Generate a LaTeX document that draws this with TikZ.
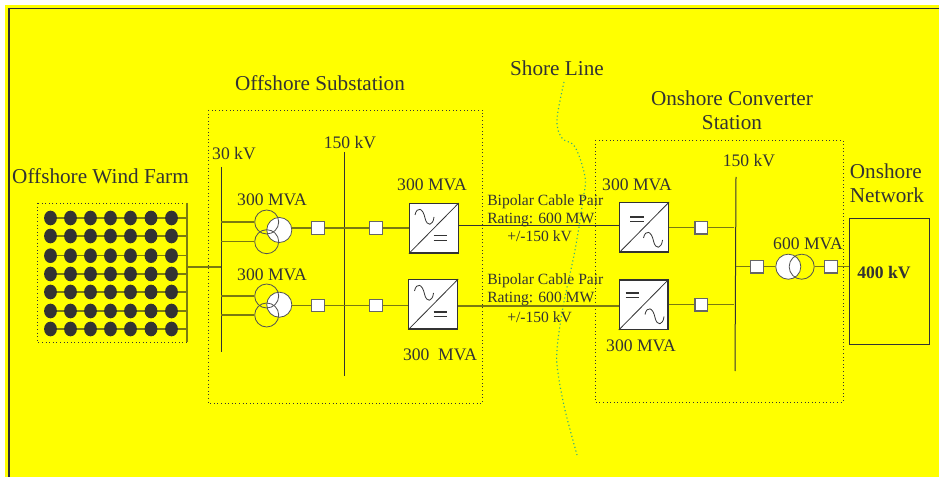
\documentclass[tikz,border=0pt]{standalone}
\usepackage{fontspec}
\setmainfont{Liberation Serif}
\usetikzlibrary{shapes.geometric,calc}
\definecolor{ink}{RGB}{51,51,51}
\definecolor{busolive}{RGB}{122,122,16}
\definecolor{shore}{RGB}{50,170,130}
\definecolor{pageyellow}{RGB}{255,255,0}
\tikzset{
  lbl/.style={text=ink,inner sep=0pt,font=\fontsize{15.9}{18}\selectfont,align=center},
  lblmid/.style={lbl,font=\fontsize{13.2}{15}\selectfont},
  lblsmall/.style={lbl,font=\fontsize{11.7}{13.5}\selectfont,align=left,anchor=west},
  busbar/.style={draw=ink,line width=0.75pt},
  wire/.style={draw=busolive,line width=0.9pt},
  thin wire/.style={draw=ink,line width=0.6pt},
  sq/.style={draw=gray!80!black,fill=white,line width=0.8pt,minimum size=9.5pt,inner sep=0pt},
  conv/.style={draw=ink,fill=white,line width=0.9pt,minimum width=36.5pt,minimum height=37pt,inner sep=0pt},
  turbine/.style={ellipse,fill=ink,minimum width=9.6pt,minimum height=11pt,inner sep=0pt},
  fence/.style={draw=ink,dotted,line width=0.7pt},
  coil/.style={draw=ink!85,line width=0.6pt},
}
\newcommand{\convsym}[1]{%
  \draw[ink,line width=0.6pt] (#1.south west) -- (#1.north east);}
\newcommand{\sinewave}[2]{%
  \draw[ink,line width=0.6pt] (#1,#2) .. controls ($(#1,#2)+(2,-9)$) and ($(#1,#2)+(8,-7)$) .. ($(#1,#2)+(10,3)$)
     .. controls ($(#1,#2)+(12,12)$) and ($(#1,#2)+(18,11)$) .. ($(#1,#2)+(19,2)$);}
\newcommand{\eqsign}[2]{%
  \draw[ink,line width=0.8pt] (#1,#2) -- ++(13.5,0) (#1,#2+4.5) -- ++(13.5,0);}
\begin{document}
\begin{tikzpicture}[x=0.75pt,y=-0.75pt]
\useasboundingbox (0,0) rectangle (939,477);
\fill[white] (0,0) rectangle (939,477);
\fill[pageyellow] (5,5) rectangle (939,477);
\draw[ink,line width=0.9pt] (9,477) -- (9,8.5) -- (939,8.5);

% shore line
\draw[shore,dotted,line width=0.85pt] plot[smooth,tension=0.6] coordinates {(564,82) (557,120) (562,138) (575,147) (585,177) (583,200) (575,250) (563,307) (557,350) (558,373) (565,410) (577,455)};

% dotted enclosures
\draw[fence] (37,203) rectangle (187,342);
\draw[fence] (208,110) rectangle (482.5,403);
\draw[fence] (595,140) rectangle (843,402);

% wind farm
\coordinate (fa) at (187,203);
\coordinate (fb) at (187,342);
\draw[busolive,line width=0.9pt] (fa) -- (fb);
\foreach \r/\yy in {1/218,2/236,3/255.7,4/274,5/292,6/311,7/329}{
  \coordinate (end\r) at (187,\yy);
  \draw[wire] (50.5,\yy) -- (end\r);
  \foreach \c/\xx in {1/50.5,2/70.5,3/90.5,4/110.5,5/130.5,6/151,7/171.5}{
    \node[turbine] (t\r\c) at (\xx,\yy) {};
  }
}

% buses
\coordinate (b30t) at (221,167); \coordinate (b30b) at (221,352);
\coordinate (b150t) at (344.5,152); \coordinate (b150b) at (344.5,376);
\coordinate (b3t) at (736,177); \coordinate (b3b) at (735,371);
\draw[busbar] (b30t) -- (b30b);
\draw[busbar] (b150t) -- (b150b);
\draw[busbar] (b3t) -- (b3b);
\coordinate (farm) at (187,267);
\coordinate (farmbus) at (221,267);
\draw[wire] (farm) -- (farmbus);

% three-winding transformers
\foreach \n/\ya/\yb/\yc in {a/222/241.7/230,b/296/315/304.7}{
  \node[circle,draw=ink!85,fill=white,line width=0.6pt,minimum size=18.8pt,inner sep=0pt] (tr\n r) at (279.3,\yc) {};
  \node[circle,coil,minimum size=18pt,inner sep=0pt] (tr\n t) at (266.7,\ya) {};
  \node[circle,coil,minimum size=18pt,inner sep=0pt] (tr\n b) at (266.7,\yb) {};
  \coordinate (bus\n t) at (221,\ya);
  \coordinate (bus\n b) at (221,\yb);
  \draw[wire] (bus\n t) -- (tr\n t.west);
  \draw[wire] (bus\n b) -- (tr\n b.west);
}

% squares
\node[sq] (s1) at (318,228) {};
\node[sq] (s2) at (375.7,228) {};
\node[sq] (s3) at (318,305.5) {};
\node[sq] (s4) at (375.7,305.5) {};
\node[sq] (s5) at (701.3,227.7) {};
\node[sq] (s6) at (701.3,304.7) {};
\node[sq] (s7) at (756.7,266.7) {};
\node[sq] (s8) at (831,266.7) {};

% converters
\node[conv] (c1) at (433.8,228.3) {};
\node[conv] (c2) at (433.2,304.4) {};
\node[conv] (c3) at (644.2,227.3) {};
\node[conv] (c4) at (643.7,304.7) {};
\convsym{c1}\convsym{c2}\convsym{c3}\convsym{c4}
\sinewave{415}{215}
\sinewave{414.5}{291}
\sinewave{643.5}{238}
\sinewave{645}{314.5}
\eqsign{433.5}{235.7}
\eqsign{433.5}{312}
\eqsign{630}{217}
\eqsign{625.5}{293}

% onshore network
\node[draw=ink,line width=0.9pt,minimum width=60.3pt,minimum height=94.5pt,inner sep=0pt] (net) at (889.5,281.7) {};
\node[lbl,font=\bfseries\fontsize{13.2}{15}\selectfont] (v400) at (884,273) {400 kV};

% two-winding transformer
\node[circle,draw=ink!85,fill=white,line width=0.6pt,minimum size=18.8pt,inner sep=0pt] (w1) at (788.3,266.7) {};
\node[circle,coil,minimum size=18.8pt,inner sep=0pt] (w2) at (801.7,266.7) {};

% connectors
\draw[wire] (trar.east |- s1) -- (s1);
\draw[wire] (trbr.east |- s3) -- (s3);
\draw[wire] (s1) -- (s2);
\draw[wire] (s3) -- (s4);
\draw[wire] (s2) -- (c1.west |- s2);
\draw[wire] (s4) -- (c2.west |- s4);
\draw[thin wire] (c1.east |- 0,225) -- (c3.west |- 0,225);
\draw[wire] (c2.east |- 0,306) -- (c4.west |- 0,306);
\draw[wire] (c3.east |- s5) -- (s5);
\draw[wire] (c4.east |- s6) -- (s6);
\coordinate (j1) at (734,227.7);
\coordinate (j2) at (734,304.7);
\coordinate (j3) at (736,266.7);
\draw[wire] (s5) -- (j1);
\draw[wire] (s6) -- (j2);
\draw[wire] (j3) -- (s7);
\draw[wire] (s7) -- (w1);
\draw[wire] (w2) -- (s8);
\draw[wire] (s8) -- (net.west |- s8);

% labels
\node[lbl] (l1) at (100.5,176) {Offshore Wind Farm};
\node[lbl] (l2) at (320,83) {Offshore Substation};
\node[lbl] (l3) at (557,68) {Shore Line};
\node[lbl] (l4) at (732,110) {Onshore Converter\\Station};
\node[lbl,align=left] (l5) at (887,183) {Onshore\\Network};
\node[lblmid] (k1) at (234,154) {30 kV};
\node[lblmid] (k2) at (350,143) {150 kV};
\node[lblmid] (k3) at (749,161) {150 kV};
\node[lblmid] (m1) at (272,200) {300 MVA};
\node[lblmid] (m2) at (272,275) {300 MVA};
\node[lblmid] (m3) at (432,185) {300 MVA};
\node[lblmid] (m4) at (440,355) {300\ \ MVA};
\node[lblmid] (m5) at (637,185) {300 MVA};
\node[lblmid] (m6) at (641,346) {300 MVA};
\node[lblmid] (m7) at (808,244) {600 MVA};
\node[lblsmall] (r1) at (487,218) {Bipolar Cable Pair\\Rating: 600 MW\\\hspace*{15pt}+/-150 kV};
\node[lblsmall] (r2) at (487,298) {Bipolar Cable Pair\\Rating: 600 MW\\[1.5pt]\hspace*{15pt}+/-150 kV};
\end{tikzpicture}
\end{document}
